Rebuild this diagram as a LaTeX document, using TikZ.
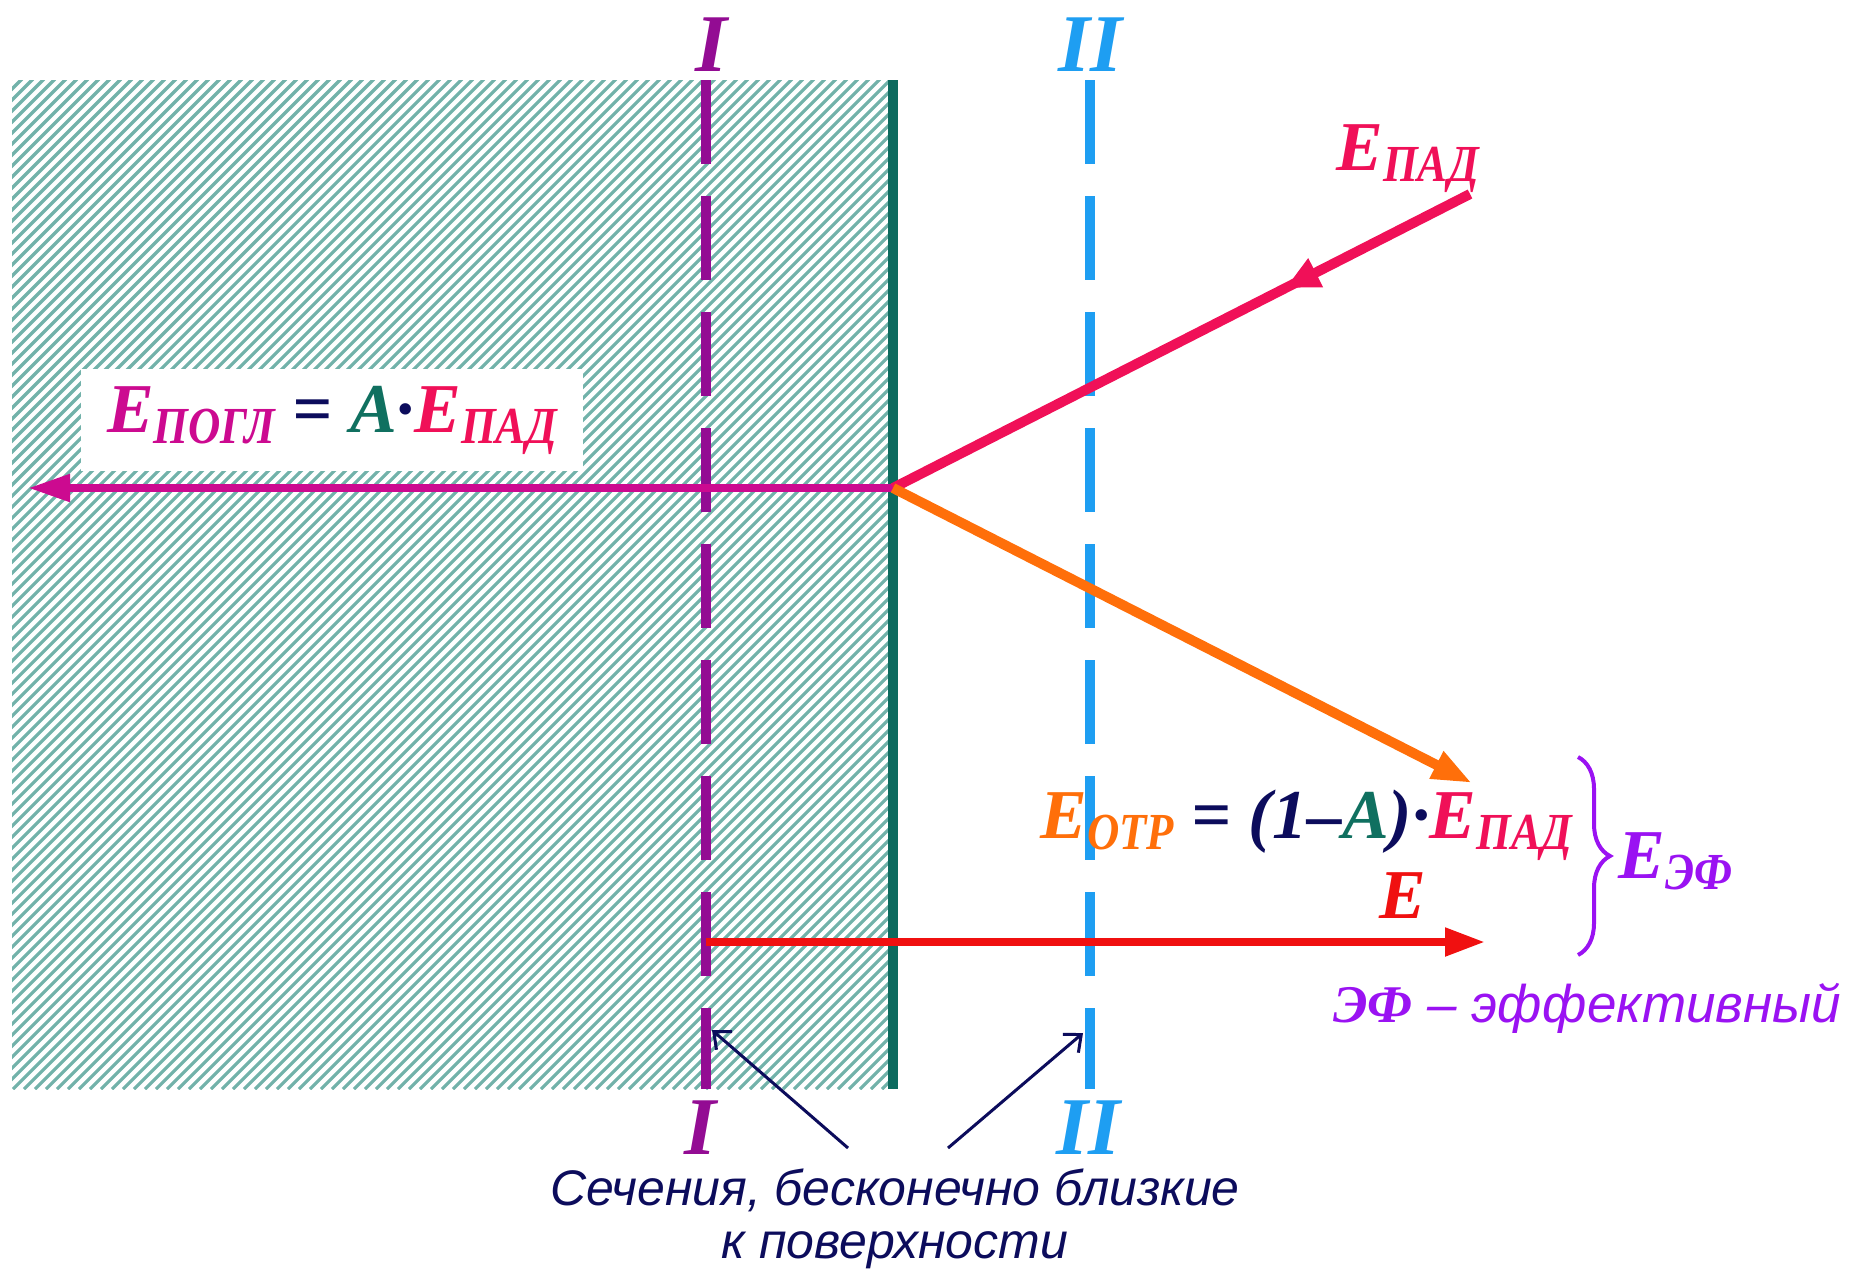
\documentclass[tikz,border=0pt]{standalone}
\usepackage{fontspec}
\setmainfont{Liberation Serif}
\setsansfont{Liberation Sans}
\usetikzlibrary{arrows.meta,decorations.pathreplacing,decorations.markings}
\definecolor{Hatch}{HTML}{72B2AA}
\definecolor{Surf}{HTML}{0D6B5F}
\definecolor{SecI}{HTML}{930C93}
\definecolor{SecII}{HTML}{1E9EF2}
\definecolor{Inc}{HTML}{F01058}
\definecolor{Abs}{HTML}{CC0A90}
\definecolor{Refl}{HTML}{FF6F0A}
\definecolor{Eff}{HTML}{F01010}
\definecolor{Vio}{HTML}{9A12F2}
\definecolor{Ink}{HTML}{0C0C5C}
\definecolor{Acol}{HTML}{107060}
\newcommand{\frm}{\bfseries\itshape\fontsize{35}{40}\selectfont}
\newcommand{\idx}[1]{\raisebox{-5.5pt}{\scalebox{0.86}[1]{\fontsize{26}{26}\selectfont #1}}}

\begin{document}
\begin{tikzpicture}[x=0.5pt, y=-0.5pt,
    frm/.style={font=\frm, inner sep=0pt},
    roman/.style={font=\bfseries\itshape\fontsize{41}{44}\selectfont, inner sep=0pt},
    note/.style={font=\sffamily\itshape\fontsize{25}{29}\selectfont, inner sep=0pt},
    secline/.style={line width=5pt, dash pattern=on 42pt off 16pt},
    beam/.style={line width=5pt},
    ptr/.style={Ink, line width=1.5pt, -{Straight Barb[length=7pt, width=12pt]}}
  ]
  \useasboundingbox (0,0) rectangle (1866,1270);

  % hatched body
  \begin{scope}
    \clip (12,80) rectangle (893,1089);
    \foreach \k [evaluate=\k as \hx using -1010+11*\k] in {0,...,175}
      \draw[Hatch, line width=1.6pt] (\hx,1089) -- ++(1010,-1010);
  \end{scope}
  \draw[Surf, line width=5pt] (893,80) -- (893,1089);

  % sections I and II
  \draw[SecI, secline] (706,80) -- (706,1089);
  \draw[SecII, secline] (1090,80) -- (1090,1089);
  \node[roman, SecI]  (ItopLbl)  at (711,45)   {I};
  \node[roman, SecII] (IItopLbl) at (1090,45)  {II};
  \node[roman, SecI]  (IbotLbl)  at (700,1128) {I};
  \node[roman, SecII] (IIbotLbl) at (1088,1128) {II};

  \coordinate (hit)    at (893,488);
  \coordinate (src)    at (1470,194);
  \coordinate (absEnd) at (28,488);
  \coordinate (refEnd) at (1472,783);
  \coordinate (effBeg) at (706,942);
  \coordinate (effEnd) at (1485,942);

  % absorbed
  \node[frm, fill=white, minimum width=251pt, minimum height=51pt] (absLbl) at (332,420)
    {{\color{Abs}E\idx{ПОГЛ}} {\color{Ink}=} {\color{Acol}A}{\color{Ink}·}{\color{Inc}E\idx{ПАД}}};
  \draw[Abs, line width=4pt, -{Triangle[length=21pt, width=13pt]}] (hit) -- (absEnd);

  % incident
  \draw[Inc, beam, postaction={decorate},
        decoration={markings, mark=at position 0.32 with {\arrow{Triangle[length=17pt, width=15pt]}}}]
    (src) -- (hit);
  \node[frm, Inc, anchor=base west] (incLbl) at (1336,170) {E\idx{ПАД}};

  % reflected
  \draw[Refl, beam, -{Triangle[length=20pt, width=14pt]}] (hit) -- (refEnd);
  \node[frm, anchor=base west] (refLbl) at (1040,838)
    {{\color{Refl}E\idx{ОТР}} {\color{Ink}= (1–}{\color{Acol}A}{\color{Ink})·}{\color{Inc}E\idx{ПАД}}};

  % resulting E
  \draw[Eff, line width=4pt, -{Triangle[length=20pt, width=13.5pt]}] (effBeg) -- (effEnd);
  \node[frm, Eff, anchor=base] (effLbl) at (1403,918) {E};

  \draw[Vio, line width=2pt, decorate, decoration={brace, amplitude=16pt}] (1578,757) -- (1578,955);
  \node[frm, Vio, anchor=base west] (efLbl) at (1618,878) {E\idx{ЭФ}};
  \node[note, Vio, anchor=base west, font=\sffamily\itshape\fontsize{26.5}{30}\selectfont] (efNote) at (1333,1022)
    {{\rmfamily\bfseries ЭФ} – эффективный};

  % caption
  \node[note, Ink, anchor=base] (capA) at (895,1205) {Сечения, бесконечно близкие};
  \node[note, Ink, anchor=base] (capB) at (895,1258) {к поверхности};
  \coordinate (fromI)  at (848,1148);
  \coordinate (fromII) at (948,1148);
  \coordinate (toI)    at (712,1030);
  \coordinate (toII)   at (1083,1033);
  \draw[ptr] (fromI) -- (toI);
  \draw[ptr] (fromII) -- (toII);
\end{tikzpicture}
\end{document}
